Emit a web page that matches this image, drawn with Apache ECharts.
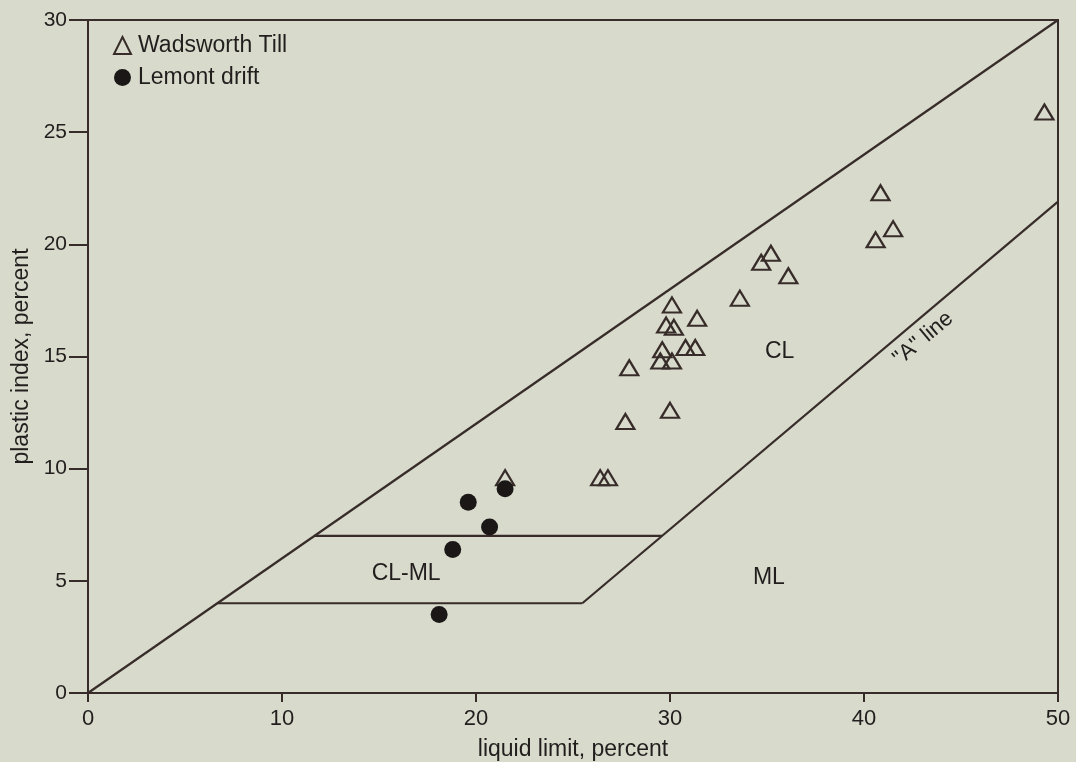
<!DOCTYPE html>
<html>
<head>
<meta charset="utf-8">
<script src="https://cdn.jsdelivr.net/npm/echarts@6/dist/echarts.min.js"></script>
<style>
html,body{margin:0;padding:0;background:#d8dacc;}
#chart{width:1076px;height:762px;}
</style>
</head>
<body>
<div id="chart"></div>
<script>
// ---- data ----
const wadsworthLL = [49.3, 40.85, 41.5, 40.6, 35.2, 34.7, 36.1, 33.6, 30.1, 31.4, 29.8, 30.2, 30.8, 31.3, 29.6, 29.5, 30.1, 27.9, 30.0, 27.7, 21.5, 26.4, 26.8];
const wadsworthPI = [25.9, 22.3, 20.7, 20.2, 19.6, 19.2, 18.6, 17.6, 17.3, 16.7, 16.4, 16.3, 15.4, 15.4, 15.3, 14.8, 14.8, 14.5, 12.6, 12.1, 9.6, 9.6, 9.6];
const lemontLL = [21.5, 19.6, 20.7, 18.8, 18.1];
const lemontPI = [9.1, 8.5, 7.4, 6.4, 3.5];

const upperLine = [[0, 0], [50, 30]];
const aLine = [[25.48, 4], [50, 21.9]];
const clmlLower = [[6.67, 4], [25.48, 4]];
const clmlUpper = [[11.67, 7], [29.59, 7]];

const zoneLabels = [
  {text: 'CL', x: 35.65, y: 15.2},
  {text: 'ML', x: 35.1, y: 5.15},
  {text: 'CL-ML', x: 16.4, y: 5.3}
];
const aLineLabel = {text: '"A" line', x: 43.05, y: 15.8};

const xTicks = [0, 10, 20, 30, 40, 50];
const yTicks = [0, 5, 10, 15, 20, 25, 30];

// ---- chart ----
const ink = '#372c29';
const txt = '#221e1d';
const font = '"Liberation Sans", Arial, sans-serif';

const zip = (a, b) => a.map((v, i) => [v, b[i]]);

const lineSeries = (data) => ({
  type: 'line', data: data, symbol: 'none', silent: true,
  lineStyle: {color: ink, width: 2.2}, z: 2, animation: false
});

const chart = echarts.init(document.getElementById('chart'), null, {renderer: 'canvas'});
chart.setOption({
  backgroundColor: '#d8dacc',
  animation: false,
  grid: {left: 88, right: 18, top: 20, bottom: 69, containLabel: false, outerBoundsMode: 'none',
    show: true, borderColor: ink, borderWidth: 2, backgroundColor: 'transparent'},
  legend: {
    data: ['Wadsworth Till', 'Lemont drift'],
    orient: 'vertical', left: 108, top: 29, itemGap: 9,
    itemWidth: 17, itemHeight: 17,
    textStyle: {fontFamily: font, fontSize: 23, color: txt, padding: [0, 0, 0, 2]}
  },
  xAxis: {
    type: 'value', min: 0, max: 50, interval: 10,
    name: 'liquid limit, percent', nameLocation: 'middle', nameGap: 45,
    nameTextStyle: {fontFamily: font, fontSize: 23, color: txt},
    axisLine: {show: true, lineStyle: {color: ink, width: 2}},
    axisTick: {show: true, length: 9, lineStyle: {color: ink, width: 2}},
    axisLabel: {fontFamily: font, fontSize: 22, color: txt, margin: 15,
      formatter: v => xTicks.includes(v) ? String(v) : ''},
    splitLine: {show: false}
  },
  yAxis: {
    type: 'value', min: 0, max: 30, interval: 5,
    name: 'plastic index, percent', nameLocation: 'middle', nameGap: 55,
    nameTextStyle: {fontFamily: font, fontSize: 23, color: txt},
    axisLine: {show: true, lineStyle: {color: ink, width: 2}},
    axisTick: {show: true, length: 19, lineStyle: {color: ink, width: 2}},
    axisLabel: {fontFamily: font, fontSize: 21, color: txt, margin: 21,
      formatter: v => yTicks.includes(v) ? String(v) : ''},
    splitLine: {show: false}
  },
  series: [
    lineSeries(upperLine),
    lineSeries(aLine),
    lineSeries(clmlLower),
    lineSeries(clmlUpper),
    {
      type: 'scatter', silent: true, z: 3,
      data: zoneLabels.map(d => ({value: [d.x, d.y], label: {formatter: d.text}})),
      symbolSize: 0,
      itemStyle: {opacity: 1},
      label: {show: true, position: 'inside', fontFamily: font, fontSize: 23, color: txt}
    },
    {
      type: 'scatter', silent: true, z: 3,
      data: [{value: [aLineLabel.x, aLineLabel.y]}],
      symbolSize: 0,
      itemStyle: {opacity: 1},
      label: {show: true, position: 'inside', rotate: 40, formatter: aLineLabel.text,
        fontFamily: font, fontSize: 22, color: txt}
    },
    {
      name: 'Wadsworth Till', type: 'scatter', z: 4, clip: false,
      data: zip(wadsworthLL, wadsworthPI),
      symbol: 'triangle', symbolSize: [18, 15],
      itemStyle: {color: 'rgba(0,0,0,0)', borderColor: ink, borderWidth: 2.2, opacity: 1}
    },
    {
      name: 'Lemont drift', type: 'scatter', z: 5, clip: false,
      data: zip(lemontLL, lemontPI),
      symbol: 'circle', symbolSize: 17,
      itemStyle: {color: '#1b1716', opacity: 1}
    }
  ]
});
</script>
</body>
</html>
